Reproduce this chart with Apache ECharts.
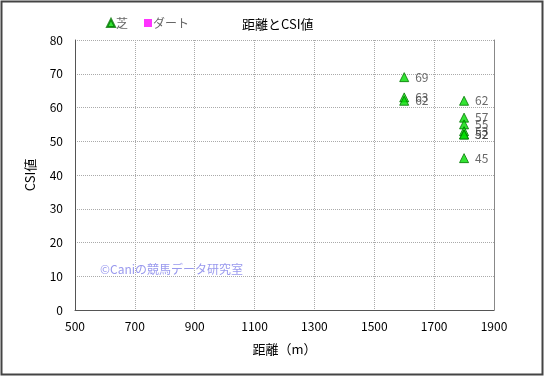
<!DOCTYPE html>
<html>
<head>
<meta charset="utf-8">
<script src="https://cdn.jsdelivr.net/npm/echarts@6/dist/echarts.min.js"></script>
<style>
  html, body { margin: 0; padding: 0; background: #fff; }
  #main { width: 545px; height: 377px; }
</style>
</head>
<body>
<div id="main"></div>
<script>
// 芝のデータ [距離, CSI値]
const turfDistance = [1600, 1600, 1600, 1800, 1800, 1800, 1800, 1800, 1800, 1800]
const turfCsi = [69, 63, 62, 62, 57, 55, 53, 52, 52, 45]
const dirtDistance = []
const dirtCsi = []
const xTicks = [500, 700, 900, 1100, 1300, 1500, 1700, 1900]
const yTicks = [0, 10, 20, 30, 40, 50, 60, 70, 80]

const font = '"Noto Sans CJK JP", sans-serif'
const myChart = echarts.init(document.getElementById('main'))

const toPairs = (xs, ys) => xs.map((x, i) => [x, ys[i]])

const option = {
  animation: false,
  textStyle: { fontFamily: font },
  title: {
    text: '距離とCSI値',
    left: 237,
    top: 13,
    textStyle: { fontSize: 13, fontWeight: 'normal', color: '#000', fontFamily: font }
  },
  legend: {
    left: 101,
    top: 12,
    itemWidth: 8,
    itemHeight: 8,
    itemGap: 16,
    textStyle: { color: '#666', fontSize: 12, fontFamily: font, padding: [0, 0, 0, -4] },
    data: [
      { name: '芝', icon: 'triangle' },
      { name: 'ダート', icon: 'rect' }
    ]
  },
  grid: { left: 75, right: 51, top: 40, bottom: 67 },
  xAxis: {
    type: 'value',
    min: xTicks[0],
    max: xTicks[xTicks.length - 1],
    interval: 200,
    name: '距離（m）',
    nameLocation: 'middle',
    nameGap: 33,
    nameTextStyle: { color: '#000', fontSize: 13, fontFamily: font },
    axisLine: { lineStyle: { color: '#555' } },
    axisTick: { show: false },
    axisLabel: { color: '#000', fontSize: 12, margin: 10, formatter: v => String(v) },
    splitLine: { lineStyle: { type: 'dotted', color: '#aaa' } }
  },
  yAxis: [
    {
      type: 'value',
      min: yTicks[0],
      max: yTicks[yTicks.length - 1],
      interval: 10,
      name: 'CSI値',
      nameLocation: 'middle',
      nameGap: 38,
      nameTextStyle: { color: '#000', fontSize: 13, fontFamily: font },
      axisLine: { show: true, lineStyle: { color: '#555' } },
      axisTick: { show: false },
      axisLabel: { color: '#000', fontSize: 12, margin: 12 },
      splitLine: { lineStyle: { type: 'dotted', color: '#aaa' } }
    },
    {
      type: 'value',
      position: 'right',
      min: yTicks[0],
      max: yTicks[yTicks.length - 1],
      interval: 10,
      axisLine: { show: true, lineStyle: { color: '#888' } },
      axisTick: { show: false },
      axisLabel: { show: false },
      splitLine: { show: false }
    }
  ],
  series: [
    {
      name: '芝',
      type: 'scatter',
      symbol: 'triangle',
      symbolSize: 9,
      itemStyle: { color: '#00dd00', borderColor: '#007700', borderWidth: 1 },
      label: {
        show: true,
        position: 'right',
        distance: 6,
        color: '#444',
        fontSize: 12,
        formatter: p => p.value[1]
      },
      data: toPairs(turfDistance, turfCsi)
    },
    {
      name: 'ダート',
      type: 'scatter',
      symbol: 'rect',
      symbolSize: 9,
      itemStyle: { color: '#ff00ff' },
      data: toPairs(dirtDistance, dirtCsi)
    }
  ],
  graphic: [
    {
      type: 'rect',
      shape: { x: 1.5, y: 1.5, width: 541, height: 373 },
      style: { fill: 'none', stroke: '#444', lineWidth: 2 },
      silent: true
    },
    {
      type: 'text',
      left: 100,
      top: 263,
      style: { text: '©Caniの競馬データ研究室', fill: '#9999ee', font: '12px ' + font },
      silent: true
    }
  ]
}
myChart.setOption(option)
</script>
</body>
</html>
